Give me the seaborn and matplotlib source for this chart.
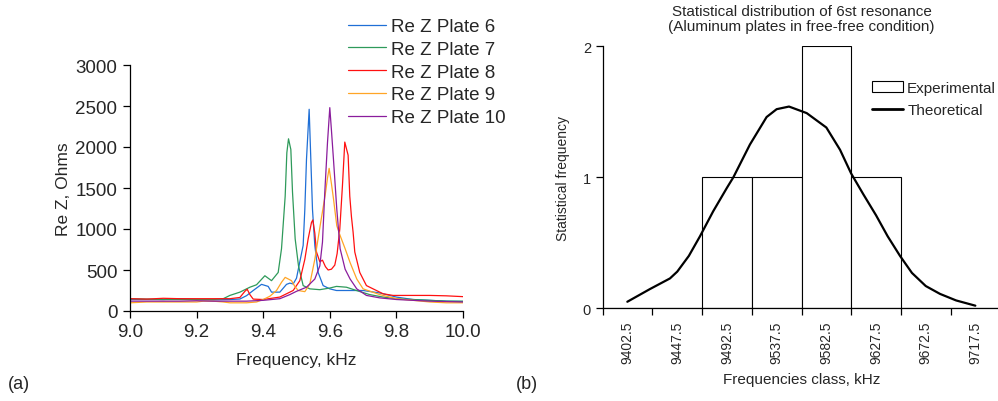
import numpy as np
import pandas as pd
import seaborn as sns
import matplotlib.pyplot as plt
from matplotlib.patches import Patch
from matplotlib.lines import Line2D

# ---- (a) Re Z curves, frequency in kHz, Re Z in Ohms
f6 = [9.00, 9.05, 9.10, 9.15, 9.20, 9.25, 9.30, 9.33, 9.35, 9.37, 9.395, 9.415, 9.425, 9.45, 9.47, 9.48,
      9.49, 9.50, 9.505, 9.51, 9.52, 9.525, 9.53, 9.538, 9.543, 9.548, 9.555, 9.565, 9.58, 9.60, 9.62,
      9.66, 9.70, 9.75, 9.80, 9.85, 9.90, 9.95, 10.00]
v6 = [140, 140, 140, 150, 140, 135, 140, 146, 187, 250, 325, 300, 230, 230, 325, 340,
      330, 400, 500, 600, 800, 1240, 1850, 2460, 1850, 1240, 800, 470, 310, 270, 250,
      250, 250, 220, 170, 140, 130, 120, 115]

f7 = [9.00, 9.05, 9.10, 9.15, 9.20, 9.25, 9.28, 9.30, 9.33, 9.36, 9.38, 9.405, 9.425, 9.445, 9.455,
      9.466, 9.471, 9.476, 9.483, 9.488, 9.496, 9.506, 9.52, 9.54, 9.57, 9.60, 9.62, 9.65, 9.68,
      9.72, 9.76, 9.80, 9.85, 9.90, 9.95, 10.00]
v7 = [150, 145, 140, 140, 140, 140, 150, 190, 230, 290, 320, 430, 370, 470, 760,
      1400, 1930, 2100, 1970, 1450, 880, 550, 310, 270, 260, 280, 300, 290, 250,
      200, 170, 150, 140, 130, 120, 120]

f8 = [9.00, 9.05, 9.10, 9.15, 9.20, 9.25, 9.30, 9.33, 9.345, 9.352, 9.36, 9.37, 9.40, 9.45, 9.49,
      9.51, 9.525, 9.535, 9.545, 9.549, 9.555, 9.56, 9.57, 9.578, 9.587, 9.595, 9.605, 9.615, 9.622,
      9.63, 9.638, 9.645, 9.65, 9.655, 9.66, 9.665, 9.67, 9.675, 9.69, 9.71, 9.76, 9.79, 9.85,
      9.90, 9.95, 10.00]
v8 = [150, 145, 155, 150, 150, 150, 150, 165, 240, 265, 200, 145, 140, 170, 250,
      370, 630, 880, 1080, 1110, 950, 720, 600, 620, 540, 500, 510, 560, 700,
      1000, 1530, 2060, 1980, 1900, 1400, 1150, 960, 720, 470, 310, 210, 190, 190,
      190, 185, 175]

f9 = [9.00, 9.05, 9.10, 9.15, 9.20, 9.22, 9.25, 9.28, 9.30, 9.35, 9.38, 9.40, 9.42, 9.44, 9.455,
      9.466, 9.485, 9.495, 9.505, 9.525, 9.54, 9.555, 9.571, 9.586, 9.593, 9.598, 9.605, 9.611,
      9.621, 9.631, 9.646, 9.661, 9.681, 9.70, 9.75, 9.80, 9.85, 9.90, 9.95, 10.00]
v9 = [100, 110, 110, 110, 110, 120, 120, 110, 100, 100, 110, 140, 180, 250, 350,
      410, 370, 300, 250, 236, 330, 630, 1040, 1410, 1620, 1740, 1550, 1370,
      1040, 920, 760, 590, 390, 270, 200, 150, 130, 110, 100, 100]

f10 = [9.00, 9.05, 9.10, 9.15, 9.20, 9.25, 9.30, 9.35, 9.40, 9.45, 9.48, 9.50, 9.53, 9.555, 9.57,
       9.578, 9.585, 9.593, 9.600, 9.605, 9.611, 9.621, 9.631, 9.646, 9.661, 9.681, 9.71, 9.75,
       9.80, 9.85, 9.90, 9.95, 10.00]
v10 = [120, 120, 120, 120, 125, 120, 120, 120, 130, 150, 200, 240, 290, 390, 550,
       840, 1450, 2050, 2480, 2200, 1850, 1240, 760, 510, 390, 270, 190, 160,
       140, 130, 120, 115, 110]

plate_names = ['Re Z Plate 6', 'Re Z Plate 7', 'Re Z Plate 8', 'Re Z Plate 9', 'Re Z Plate 10']
plate_colors = ['#1f6fd6', '#2e9a5a', '#ff1010', '#ffa526', '#8a1c9c']

# ---- (b) histogram of the 6th resonance
classes = ['9402.5', '9447.5', '9492.5', '9537.5', '9582.5', '9627.5', '9672.5', '9717.5']
counts = [0, 0, 1, 1, 2, 1, 0, 0]
theo_freq = [9402.3, 9422.8, 9440.9, 9447.5, 9458.0, 9468.1, 9480.0, 9492.5, 9498.3, 9513.3,
             9528.4, 9537.5, 9548.7, 9564.7, 9582.5, 9594.9, 9604.9, 9616.0, 9627.5, 9638.0,
             9649.2, 9660.0, 9672.5, 9685.4, 9700.0, 9717.4]
theo_vals = [0.05, 0.147, 0.228, 0.28, 0.40, 0.55, 0.74, 0.92, 1.0, 1.25,
             1.46, 1.52, 1.54, 1.49, 1.38, 1.21, 1.03, 0.87, 0.71, 0.55,
             0.40, 0.27, 0.17, 0.11, 0.06, 0.02]

sns.set_style('ticks')
plt.rcParams['font.family'] = ['Liberation Sans', 'DejaVu Sans']

fig = plt.figure(figsize=(9.98, 4.02), dpi=100)
ax1 = fig.add_axes([130 / 998, 90 / 402, 333 / 998, 246 / 402])
ax2 = fig.add_axes([602.7 / 998, 92.7 / 402, 397.6 / 998, 262 / 402])

series = [(f6, v6), (f7, v7), (f8, v8), (f9, v9), (f10, v10)]
for (f, v), name, c in zip(series, plate_names, plate_colors):
    sns.lineplot(x=f, y=v, ax=ax1, color=c, lw=0.9, label=name, sort=False, estimator=None)

ax1.set_xlim(9.0, 10.0)
ax1.set_ylim(0, 3000)
ax1.set_xticks(np.arange(9.0, 10.01, 0.2))
ax1.set_xticklabels(['%.1f' % t for t in np.arange(9.0, 10.01, 0.2)])
ax1.set_yticks(range(0, 3001, 500))
ax1.tick_params(labelsize=13.5, length=5, width=0.9, color='black', pad=4)
ax1.set_xlabel('Frequency, kHz', fontsize=12.5, labelpad=8)
ax1.set_ylabel('Re Z, Ohms', fontsize=12.5, labelpad=3)
sns.despine(ax=ax1)
for s in ['left', 'bottom']:
    ax1.spines[s].set_color('black')
    ax1.spines[s].set_linewidth(0.9)
ax1.legend(loc='upper left', bbox_to_anchor=(348 / 998, 1 - 19 / 402), bbox_transform=fig.transFigure,
           frameon=False, fontsize=13.5, handlelength=2.0, handletextpad=0.3, labelspacing=0.3,
           borderpad=0, borderaxespad=0)

# bars
df_b = pd.DataFrame({'cls': classes, 'count': counts})
sns.barplot(data=df_b, x='cls', y='count', ax=ax2, color='white', edgecolor='black',
            linewidth=0.8, width=1.0, saturation=1)
theo_pos = [(f - 9402.5) / 45 for f in theo_freq]
sns.lineplot(x=theo_pos, y=theo_vals, ax=ax2, color='black', lw=1.6, sort=False, estimator=None)

ax2.set_xlim(-0.5, 7.5)
ax2.set_ylim(0, 2)
ax2.set_yticks([0, 1, 2])
ax2.set_xticks(np.arange(-0.5, 7.6, 1))
ax2.set_xticklabels([])
ax2.set_xticks(range(len(classes)), minor=True)
ax2.set_xticklabels(classes, minor=True, rotation=90)
ax2.tick_params(axis='x', which='minor', length=0, labelsize=10, pad=9)
ax2.tick_params(axis='both', which='major', length=5, width=0.9, color='black', labelsize=10.5)
ax2.set_xlabel('Frequencies class, kHz', fontsize=11, labelpad=6)
ax2.set_ylabel('Statistical frequency', fontsize=10, labelpad=9)
ax2.set_title('Statistical distribution of 6st resonance\n(Aluminum plates in free-free condition)',
              fontsize=11, pad=12, linespacing=1.1)
sns.despine(ax=ax2)
for s in ['left', 'bottom']:
    ax2.spines[s].set_color('black')
    ax2.spines[s].set_linewidth(0.9)
handles = [Patch(facecolor='white', edgecolor='black', linewidth=0.8),
           Line2D([], [], color='black', lw=2)]
ax2.legend(handles, ['Experimental', 'Theoretical'], loc='upper left',
           bbox_to_anchor=(872 / 998, 1 - 82 / 402), bbox_transform=fig.transFigure,
           frameon=False, fontsize=11, handlelength=2.0, handletextpad=0.3, labelspacing=0.55,
           borderpad=0, borderaxespad=0)

fig.text(8 / 998, 1 - 385 / 402, '(a)', fontsize=13, va='center', ha='left')
fig.text(516 / 998, 1 - 385 / 402, '(b)', fontsize=13, va='center', ha='left')

plt.savefig('out.png', dpi=100)
